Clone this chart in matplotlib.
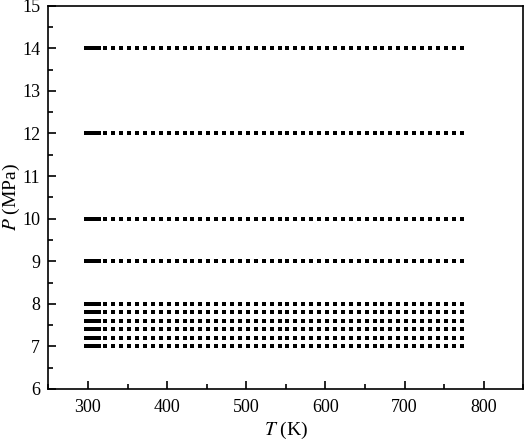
import numpy as np
import matplotlib
matplotlib.use("Agg")
import matplotlib.pyplot as plt
from matplotlib.ticker import MultipleLocator

# pressure levels (MPa)
pressures = [7.0, 7.2, 7.4, 7.6, 7.8, 8.0, 9.0, 10.0, 12.0, 14.0]
# temperatures sampled: dense near the critical region, then every 10 K
t_dense = list(range(297, 315))
t_coarse = list(range(322, 773, 10))
temps = t_dense + t_coarse

plt.rcParams['font.family'] = ['Liberation Serif', 'DejaVu Serif']
plt.rcParams['mathtext.fontset'] = 'stix'

fig = plt.figure(figsize=(5.26, 4.44), dpi=100)
ax = fig.add_axes([0.092, 0.124, 0.903, 0.863])

for p in pressures:
    ax.scatter(temps, [p] * len(temps), marker='s', s=12, color='black',
               linewidths=0)

ax.set_xlim(250, 850)
ax.set_ylim(6, 15)
ax.xaxis.set_major_locator(MultipleLocator(100))
ax.xaxis.set_minor_locator(MultipleLocator(50))
ax.yaxis.set_major_locator(MultipleLocator(1))
ax.yaxis.set_minor_locator(MultipleLocator(0.5))
ax.set_xticks([300, 400, 500, 600, 700, 800])
ax.tick_params(which='both', direction='in', top=False, right=False,
               labelsize=13, width=1.2)
ax.tick_params(axis='x', which='major', length=6, pad=7)
ax.tick_params(axis='y', which='major', length=6, pad=6)
ax.tick_params(which='minor', length=3.5)
for s in ax.spines.values():
    s.set_linewidth(1.2)

ax.set_xlabel(r'$T$ (K)', fontsize=14, labelpad=3)
ax.set_ylabel(r'$P$ (MPa)', fontsize=14, labelpad=0)

fig.savefig("out.png", dpi=100)
